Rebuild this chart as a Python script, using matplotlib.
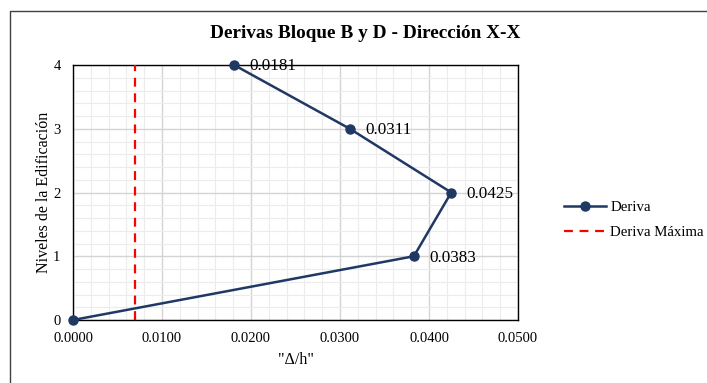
import matplotlib.pyplot as plt
from matplotlib.lines import Line2D
from matplotlib.ticker import MultipleLocator, FormatStrFormatter

plt.rcParams['font.family'] = ['Liberation Serif', 'DejaVu Serif']

deriva = [0.0000, 0.0383, 0.0425, 0.0311, 0.0181]
niveles = [0, 1, 2, 3, 4]
deriva_max = 0.007
labels = ['0.0383', '0.0425', '0.0311', '0.0181']

fig = plt.figure(figsize=(7.07, 3.83), dpi=100)
ax = fig.add_axes([73 / 707, 1 - 320 / 383, 445 / 707, 255 / 383])

# outer chart frame (top and left edges visible)
fx, fy = 9.5 / 707, 1 - 10.5 / 383
fig.add_artist(Line2D([fx, fx, 1.0], [0.0, fy, fy], transform=fig.transFigure,
                      color='#404040', linewidth=1.0))

ax.set_xlim(0, 0.05)
ax.set_ylim(0, 4)
ax.xaxis.set_major_locator(MultipleLocator(0.01))
ax.xaxis.set_minor_locator(MultipleLocator(0.002))
ax.yaxis.set_major_locator(MultipleLocator(1))
ax.yaxis.set_minor_locator(MultipleLocator(0.2))
ax.xaxis.set_major_formatter(FormatStrFormatter('%.4f'))
ax.grid(which='major', color='#d4d4d4', linewidth=1.0)
ax.grid(which='minor', color='#ececec', linewidth=0.8)
ax.set_axisbelow(True)
ax.tick_params(which='both', length=0, labelsize=10.5)
ax.tick_params(axis='x', pad=9)
ax.tick_params(axis='y', pad=9)
for s in ax.spines.values():
    s.set_color('black')
    s.set_linewidth(1.0)

ax.plot(deriva, niveles, color='#203864', linewidth=1.8, marker='o',
        markersize=6.5, label='Deriva', clip_on=False, zorder=4)
ax.plot([deriva_max, deriva_max], [0, 4], color='#ff0000', linewidth=1.6,
        linestyle=(0, (4, 3)), label='Deriva Máxima', zorder=3)

for x, y, t in zip(deriva[1:], niveles[1:], labels):
    ax.annotate(t, (x, y), xytext=(11, -1), textcoords='offset points',
                va='center', ha='left', fontsize=12.3, color='black', zorder=5)

ax.set_xlabel('"Δ/h"', fontsize=11.5, labelpad=5)
ax.set_ylabel('Niveles de la Edificación', fontsize=11.5, labelpad=1)

fig.text(365 / 707, 1 - 33 / 383, 'Derivas Bloque B y D - Dirección X-X',
         ha='center', va='center', fontsize=13.9, fontweight='bold')

ax.legend(loc='center left', bbox_to_anchor=(551 / 707, 1 - 220 / 383),
          bbox_transform=fig.transFigure, frameon=False, fontsize=10.7,
          handlelength=2.8, handletextpad=0.3, labelspacing=0.75)

fig.savefig('out.png', dpi=100)
